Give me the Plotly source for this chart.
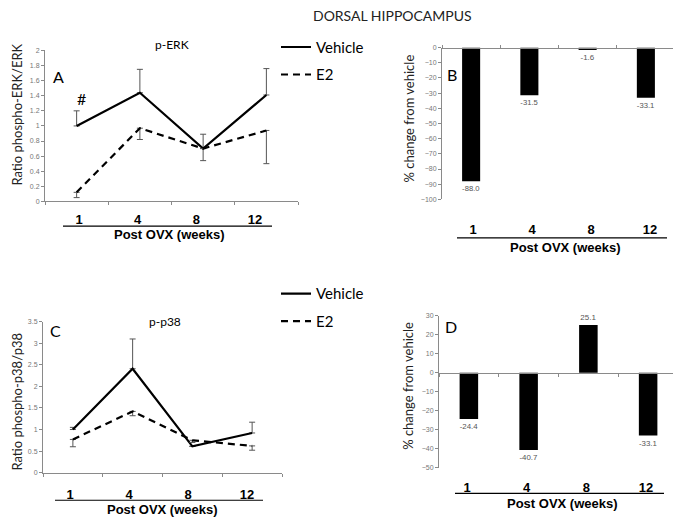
import plotly.graph_objects as go

OFFX, OFFY = 8, 10  # page offset of the plot inside the browser window
W, H = 681 - 8, 522 - 8

weeks = ["1", "4", "8", "12"]
erk_vehicle = [1.00, 1.44, 0.70, 1.41]
erk_vehicle_err = [0.20, 0.31, 0.19, 0.35]
erk_e2 = [0.12, 0.97, 0.70, 0.94]
erk_e2_err = [0.07, 0.15, 0.16, 0.44]
p38_vehicle = [1.00, 2.41, 0.61, 0.92]
p38_vehicle_err = [0.05, 0.69, 0.0, 0.25]
p38_e2 = [0.77, 1.42, 0.75, 0.62]
p38_e2_err = [0.17, 0.10, 0.05, 0.10]
erk_change = [-88.0, -31.5, -1.6, -33.1]
p38_change = [-24.4, -40.7, 25.1, -33.1]

CAL = "Lato, 'Open Sans', sans-serif"
ARI = "'Liberation Sans', Arial, sans-serif"
GRAY = "#8a8a8a"
TICKG = "#777777"


def px(x):
    return (x - OFFX) / W


def py(y):
    return 1 - (y - OFFY) / H


fig = go.Figure()


def line_trace(y, err, name, dash, xa, ya, up, legend):
    zeros = [0] * len(err)
    ey = dict(type="data", symmetric=False,
              array=err if up else zeros, arrayminus=zeros if up else err,
              color="#555555", thickness=1, width=3)
    return go.Scatter(x=weeks, y=y, mode="lines", name=name, legendgroup=name,
                      line=dict(color="black", width=2.2, dash=dash),
                      error_y=ey, xaxis=xa, yaxis=ya, legend=legend)


DASH = "7px,5px"
fig.add_trace(line_trace(erk_vehicle, erk_vehicle_err, "Vehicle", "solid", "x", "y", True, "legend"))
fig.add_trace(line_trace(erk_e2, erk_e2_err, "E2", DASH, "x", "y", False, "legend"))
fig.add_trace(line_trace(p38_vehicle, p38_vehicle_err, "Vehicle", "solid", "x3", "y3", True, "legend2"))
fig.add_trace(line_trace(p38_e2, p38_e2_err, "E2", DASH, "x3", "y3", False, "legend2"))

for vals, xa, ya in [(erk_change, "x2", "y2"), (p38_change, "x4", "y4")]:
    fig.add_trace(go.Bar(x=weeks, y=vals, marker=dict(color="black", line=dict(width=0)),
                         width=0.31, text=[f"{v:.1f}" for v in vals],
                         textposition="outside", cliponaxis=False,
                         textfont=dict(family=ARI, size=8, color="#555555"),
                         xaxis=xa, yaxis=ya, showlegend=False))

# week-label rows: empty (value-less) traces that attach the label axes to a subplot
for xa, ya in [("x5", "y"), ("x6", "y2"), ("x7", "y3"), ("x8", "y4")]:
    fig.add_trace(go.Scatter(x=weeks, y=[None] * len(weeks), mode="lines",
                             xaxis=xa, yaxis=ya, showlegend=False, hoverinfo="skip"))

# plot areas in reference pixels
dom = {
    "A": dict(x=(45, 298), y=(49, 202)),
    "B": dict(x=(442, 675), y=(46, 200)),
    "C": dict(x=(43, 282), y=(324, 477)),
    "D": dict(x=(439, 678), y=(318, 472)),
}
# week label rows (first/last label centre x, label top y)
labrow = {
    "A": (79, 255, 211),
    "B": (473, 650, 221),
    "C": (70, 247, 490),
    "D": (467, 646, 482),
}


def xdom(k):
    return [px(dom[k]["x"][0]), px(dom[k]["x"][1])]


def ydom(k):
    return [py(dom[k]["y"][1]), py(dom[k]["y"][0])]


label_font = dict(family=ARI, size=13, color="black", weight="bold")
ytick_font = dict(family=ARI, size=7, color=TICKG)


def xaxis_line(k, anchor, position=None, side="bottom"):
    d = dict(domain=xdom(k), type="category", range=[-0.5, 3.5],
             showline=True, linecolor=GRAY, linewidth=1,
             ticks="outside", tickson="boundaries", ticklen=3,
             tickcolor=GRAY, showgrid=False, zeroline=False, showticklabels=False,
             side=side)
    if position is None:
        d["anchor"] = anchor
    else:
        d["anchor"] = "free"
        d["position"] = position
    return d


def xaxis_labels(k):
    c0, c3, top = labrow[k]
    s = (c3 - c0) / 3
    return dict(domain=[px(c0 - s / 2), px(c3 + s / 2)], anchor="free", position=py(top),
                type="category", categoryorder="array", categoryarray=weeks,
                range=[-0.5, 3.5], showline=False, ticks="", showgrid=False,
                zeroline=False, tickfont=label_font, ticklabelstandoff=0)


def yaxis_d(k, anchor, rng, dtick):
    return dict(domain=ydom(k), anchor=anchor, range=rng, dtick=dtick,
                showline=True, linecolor=GRAY, linewidth=1, ticks="outside",
                ticklen=3, tickcolor=GRAY, showgrid=False, tickfont=ytick_font,
                zeroline=False)


def pos_of_zero(k, rng):
    y0, y1 = dom[k]["y"]
    zero_px = y0 + (rng[1] - 0) / (rng[1] - rng[0]) * (y1 - y0)
    return py(zero_px)


rngB, rngD = [-100, 0], [-50, 30]
fig.update_layout(
    xaxis=xaxis_line("A", "y"),
    yaxis=yaxis_d("A", "x", [0, 2], 0.2),
    xaxis2=xaxis_line("B", "y2", position=pos_of_zero("B", rngB), side="top"),
    yaxis2=yaxis_d("B", "x2", rngB, 10),
    xaxis3=xaxis_line("C", "y3"),
    yaxis3=yaxis_d("C", "x3", [0, 3.5], 0.5),
    xaxis4=xaxis_line("D", "y4", position=pos_of_zero("D", rngD)),
    yaxis4=yaxis_d("D", "x4", rngD, 10),
    xaxis5=xaxis_labels("A"),
    xaxis6=xaxis_labels("B"),
    xaxis7=xaxis_labels("C"),
    xaxis8=xaxis_labels("D"),
)

leg_common = dict(font=dict(family=CAL, size=15, color="black"), bgcolor="rgba(0,0,0,0)",
                  xanchor="left", yanchor="top", tracegroupgap=5, traceorder="grouped",
                  itemwidth=30)
fig.update_layout(
    legend=dict(x=px(276), y=py(29), **leg_common),
    legend2=dict(x=px(276), y=py(279), **leg_common),
)

annotations = []


def ann(text, x, y, size, family=CAL, bold=False, color="black", angle=0):
    t = f"<b>{text}</b>" if bold else text
    annotations.append(dict(text=t, x=px(x), y=py(y), xref="paper", yref="paper",
                            showarrow=False, xanchor="center", yanchor="middle",
                            textangle=angle,
                            font=dict(family=family, size=size, color=color)))


ann("DORSAL HIPPOCAMPUS", 392, 14, 14, color="#222222")
ann("p-ERK", 172, 43, 12)
ann("p-p38", 165, 324, 12)
ann("A", 58, 75, 16)
ann("B", 452, 73, 16)
ann("C", 55, 333, 16)
ann("D", 451, 329, 16)
ann("#", 81, 98, 16)
ann("Ratio phospho-ERK/ERK", 17, 114, 13, color="#222222", angle=-90)
ann("Ratio phospho-p38/p38", 17, 405, 13, color="#222222", angle=-90)
ann("% change from vehicle", 409, 118, 13, color="#222222", angle=-90)
ann("% change from vehicle", 408, 389, 13, color="#222222", angle=-90)
ann("Post OVX (weeks)", 169, 236, 13, family=ARI, bold=True)
ann("Post OVX (weeks)", 565, 249, 13, family=ARI, bold=True)
ann("Post OVX (weeks)", 162, 514, 13, family=ARI, bold=True)
ann("Post OVX (weeks)", 562, 508, 13, family=ARI, bold=True)

shapes = []
for (x0, x1, y) in [(63, 272, 227), (457, 667, 239), (55, 263, 505), (455, 664, 498)]:
    shapes.append(dict(type="line", xref="paper", yref="paper", x0=px(x0), x1=px(x1),
                       y0=py(y), y1=py(y), line=dict(color="black", width=1.2)))

fig.update_layout(
    width=W, height=H, margin=dict(l=0, r=0, t=0, b=0),
    paper_bgcolor="white", plot_bgcolor="rgba(0,0,0,0)",
    annotations=annotations, shapes=shapes,
)

fig.write_html("out.html")
